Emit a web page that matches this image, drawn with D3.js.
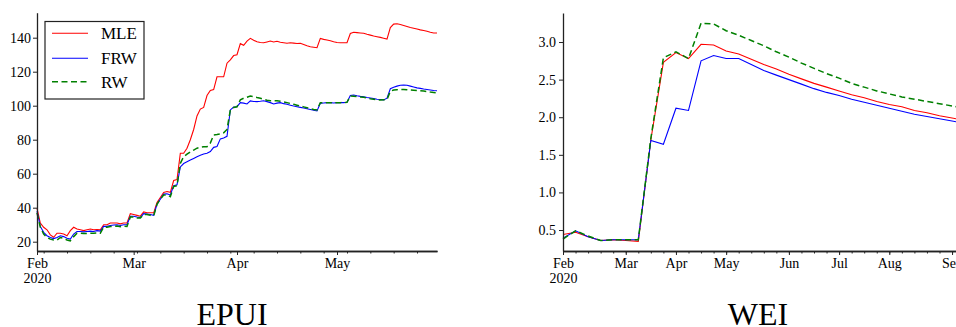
<!DOCTYPE html>
<html>
<head>
<meta charset="utf-8">
<script src="https://cdn.jsdelivr.net/npm/d3@7"></script>
<style>
  body { margin:0; background:#fff; }
</style>
</head>
<body>
<div id="chart"></div>
<script>
// EPUI, daily from 2020-02-01
var epuiStart = "2020-02-01";
var epuiMLE = [
  39.6, 31, 28.5, 27, 24, 22.6, 25, 25, 24.5, 23.5,
  26.5, 28.5, 27.5, 27, 26.5, 27, 27.5, 27, 27.2, 27,
  30, 30, 31, 31, 31, 30.5, 31, 31, 36.5, 36,
  35.5, 35, 37.5, 37, 37, 37, 43, 46, 49, 49.5,
  49, 56, 56.5, 72, 72, 75, 80, 86, 94, 98,
  99, 106, 109, 109.5, 117, 117, 117, 125, 127, 129.5,
  130, 136.5, 135.5, 138, 139.6, 138.5, 137.6, 137.2, 137, 137.5,
  138, 137.5, 137.9, 137.3, 137, 136.7, 137, 136.8, 136.6, 136.7,
  136, 135.3, 134.7, 134.4, 134.1, 139.6, 139, 138.6, 138.2, 137.6,
  137.2, 137, 137, 137, 142.5, 143.2, 143, 142.8, 142.6, 142,
  141.5, 141, 140.6, 140.2, 139.7, 139.2, 146, 148, 148.2, 147.8,
  147.2, 146.6, 146, 145.6, 145.1, 144.6, 144.2, 143.8, 143.2, 142.8,
  142.8
];
var epuiFRW = [
  38, 29, 25.5, 23.5, 22.5, 21.8, 22.5, 23.5, 23, 22,
  21.5, 24.5, 26, 26, 25.8, 26, 26.2, 26, 26.5, 26.2,
  29, 29, 29.5, 29.8, 30, 29.5, 30, 30, 35, 35,
  34.5, 34.2, 36.5, 36.3, 36, 35.5, 42, 45, 48, 48.2,
  47.5, 53, 53.5, 64, 66, 67, 68, 69, 70, 70.8,
  71.6, 72, 73, 75.5, 76, 80.5, 81, 82, 97.5, 99.2,
  99.4, 101.8, 101.5, 101, 102.8, 102.5, 102.4, 102.6, 102.9, 102.4,
  101.8, 101, 101.5, 101.8, 101.2, 100.8, 100.3, 99.8, 99.4, 99,
  98.6, 98.2, 97.8, 97.3, 96.9, 101.4, 101.6, 101.8, 101.8, 101.6,
  101.8, 101.8, 101.8, 102, 106, 106.3, 105.8, 105.5, 105.3, 104.8,
  104.5, 104.2, 103.8, 103.6, 103.4, 104.4, 110, 110.8, 111.5, 112,
  112.2, 112, 111.5, 111, 110.5, 110.2, 109.8, 109.5, 109.2, 108.9,
  108.8
];
var epuiRW = [
  37, 28.5, 24.5, 22.5, 21.5, 21, 21, 22.5, 22, 21,
  20.5, 23, 25, 25, 24.8, 24.8, 25, 25, 25.2, 25,
  28.5, 28.5, 29, 29, 29.2, 28.8, 29.2, 29, 34.5, 34.5,
  34, 34, 36, 36, 35.5, 35.2, 42, 45, 47.5, 47.5,
  46.5, 52.5, 53, 66.1, 70, 71.5, 72.8, 73.9, 75, 75.5,
  75.8, 75.9, 78, 82.8, 83, 83.4, 84, 86, 97.5, 99,
  99.4, 103.4, 104.4, 105, 105.7, 105.3, 104.8, 104.4, 103.8, 103.2,
  102.9, 102.9, 102.9, 102.6, 102.2, 101.8, 101.3, 100.8, 100.3, 99.8,
  99.3, 98.8, 98.3, 97.8, 97.5, 101.8, 101.8, 101.8, 101.8, 101.8,
  101.8, 101.8, 101.9, 102, 105.7, 105.6, 105.3, 105.1, 104.9, 104.5,
  104.1, 103.8, 103.4, 103.4, 103.5, 103.6, 108.5, 109.2, 109.4, 109.6,
  109.5, 109.4, 109.2, 109.1, 109, 108.8, 108.6, 108.3, 108, 107.8,
  107.6
];
var epuiTicks = [20, 40, 60, 80, 100, 120, 140];

// WEI, weekly from 2020-02-01
var weiStart = "2020-02-01";
var weiMLE = [0.44, 0.47, 0.41, 0.36, 0.37, 0.36, 0.35, 1.70, 2.73, 2.86, 2.78, 2.97, 2.96, 2.88, 2.84, 2.77, 2.70,
  2.64, 2.57, 2.51, 2.45, 2.40, 2.35, 2.30, 2.26, 2.21, 2.17, 2.14, 2.09, 2.06, 2.02, 1.99, 1.96];
var weiFRW = [0.39, 0.49, 0.41, 0.36, 0.37, 0.37, 0.37, 1.69, 1.64, 2.12, 2.09, 2.75, 2.82, 2.78, 2.78, 2.70, 2.62,
  2.56, 2.50, 2.44, 2.38, 2.33, 2.29, 2.24, 2.20, 2.16, 2.12, 2.08, 2.04, 2.01, 1.98, 1.95, 1.92];
var weiRW = [0.38, 0.49, 0.42, 0.36, 0.37, 0.37, 0.37, 1.72, 2.79, 2.87, 2.78, 3.25, 3.24, 3.15, 3.09, 3.02, 2.95,
  2.87, 2.80, 2.72, 2.65, 2.58, 2.52, 2.45, 2.40, 2.35, 2.31, 2.27, 2.24, 2.21, 2.18, 2.15, 2.12];
var weiTicks = [0.5, 1.0, 1.5, 2.0, 2.5, 3.0];

var seriesNames = ["MLE", "FRW", "RW"];
var seriesColors = ["#ff0000", "#0000ff", "#008000"];
var titles = ["EPUI", "WEI"];

(function(){
  var W = 956, H = 327;
  var serif = "Liberation Serif";
  var parse = d3.timeParse("%Y-%m-%d");
  var monthFmt = d3.timeFormat("%b");

  var svg = d3.select("#chart").append("svg")
    .attr("width", W).attr("height", H)
    .attr("font-family", serif);

  function styleSeries(sel, i) {
    sel.attr("fill", "none")
       .attr("stroke", seriesColors[i])
       .attr("stroke-width", i == 2 ? 1.5 : 1.1)
       .attr("stroke-dasharray", i == 2 ? "6,3.5" : null);
  }

  function styleAxis(g) {
    g.attr("font-family", serif).attr("font-size", 14);
    g.selectAll("text").attr("font-family", serif).attr("fill", "#000");
    g.selectAll("path.domain").attr("stroke", "#222").attr("stroke-width", 1.3);
    g.selectAll(".tick line").attr("stroke", "#222").attr("stroke-width", 1);
  }

  // ---------- EPUI ----------
  var t0 = parse(epuiStart);
  var epuiDates = epuiMLE.map(function(d, i) { return d3.timeDay.offset(t0, i); });
  var x1 = d3.scaleTime()
    .domain([t0, epuiDates[epuiDates.length - 1]])
    .range([37, 437]);
  var y1 = d3.scaleLinear().domain([14.53, 154.7]).range([251, 12.7]);

  var g1 = svg.append("g");
  [epuiMLE, epuiFRW, epuiRW].forEach(function(vals, i) {
    var line = d3.line()
      .x(function(d, j) { return x1(epuiDates[j]); })
      .y(function(d) { return y1(d); });
    g1.append("path").datum(vals).attr("d", line).call(styleSeries, i);
  });

  var months1 = d3.timeMonth.range(t0, d3.timeDay.offset(epuiDates[epuiDates.length - 1], 1));
  var mondays1 = d3.timeMonday.range(t0, epuiDates[epuiDates.length - 1]);
  g1.append("g").attr("transform", "translate(0,251)")
    .call(d3.axisBottom(x1).tickValues(mondays1).tickSize(2.5).tickSizeOuter(0).tickFormat(""))
    .call(styleAxis);
  var ax1 = g1.append("g").attr("transform", "translate(0,251)")
    .call(d3.axisBottom(x1).tickValues(months1).tickSize(4).tickSizeOuter(0).tickPadding(3)
      .tickFormat(monthFmt))
    .call(styleAxis);
  ax1.selectAll(".tick text").filter(function(d, i) { return i == 0; })
    .append("tspan").attr("x", 0).attr("dy", "1.05em").text("2020");

  g1.append("g").attr("transform", "translate(37,0)")
    .call(d3.axisLeft(y1).tickValues(epuiTicks).tickSize(4).tickSizeOuter(0).tickPadding(2))
    .call(styleAxis);

  // legend
  var lg = g1.append("g");
  lg.append("rect").attr("x", 45).attr("y", 21.5).attr("width", 99).attr("height", 77.5)
    .attr("fill", "#fff").attr("stroke", "#222").attr("stroke-width", 1.2);
  var legY = [33.3, 58.3, 81.7];
  seriesNames.forEach(function(name, i) {
    lg.append("line").attr("x1", 52).attr("x2", 88).attr("y1", legY[i]).attr("y2", legY[i])
      .call(styleSeries, i);
    lg.append("text").attr("x", 101).attr("y", legY[i]).attr("dy", "0.35em")
      .attr("font-family", serif).attr("font-size", 17).text(name);
  });

  // ---------- WEI ----------
  var w0 = parse(weiStart);
  var weiDates = weiMLE.map(function(d, i) { return d3.timeDay.offset(w0, 7 * i); });
  var x2 = d3.scaleLinear().domain([0, 32]).range([563, 563 + 32 * 12.55]);
  var y2 = d3.scaleLinear().domain([0.221, 3.386]).range([251, 13]);

  var g2 = svg.append("g");
  [weiMLE, weiFRW, weiRW].forEach(function(vals, i) {
    var line = d3.line()
      .x(function(d, j) { return x2(j); })
      .y(function(d) { return y2(d); });
    g2.append("path").datum(vals).attr("d", line).call(styleSeries, i);
  });

  var allWeeks = d3.range(weiDates.length);
  var monthIdx = allWeeks.filter(function(i) {
    return i == 0 || weiDates[i].getMonth() != weiDates[i - 1].getMonth();
  });
  g2.append("g").attr("transform", "translate(0,251)")
    .call(d3.axisBottom(x2).tickValues(allWeeks).tickSize(2.5).tickSizeOuter(0).tickFormat(""))
    .call(styleAxis);
  var ax2 = g2.append("g").attr("transform", "translate(0,251)")
    .call(d3.axisBottom(x2).tickValues(monthIdx).tickSize(4).tickSizeOuter(0).tickPadding(3)
      .tickFormat(function(i) { return monthFmt(weiDates[i]); }))
    .call(styleAxis);
  ax2.selectAll(".tick text").filter(function(d, i) { return i == 0; })
    .append("tspan").attr("x", 0).attr("dy", "1.05em").text("2020");

  g2.append("g").attr("transform", "translate(563,0)")
    .call(d3.axisLeft(y2).tickValues(weiTicks).tickSize(4).tickSizeOuter(0).tickPadding(3)
      .tickFormat(d3.format(".1f")))
    .call(styleAxis);

  // titles
  svg.append("text").attr("x", 232).attr("y", 325).attr("text-anchor", "middle")
    .attr("font-family", serif).attr("font-size", 32).text(titles[0]);
  svg.append("text").attr("x", 758).attr("y", 325).attr("text-anchor", "middle")
    .attr("font-family", serif).attr("font-size", 32).text(titles[1]);
})();
</script>
</body>
</html>
